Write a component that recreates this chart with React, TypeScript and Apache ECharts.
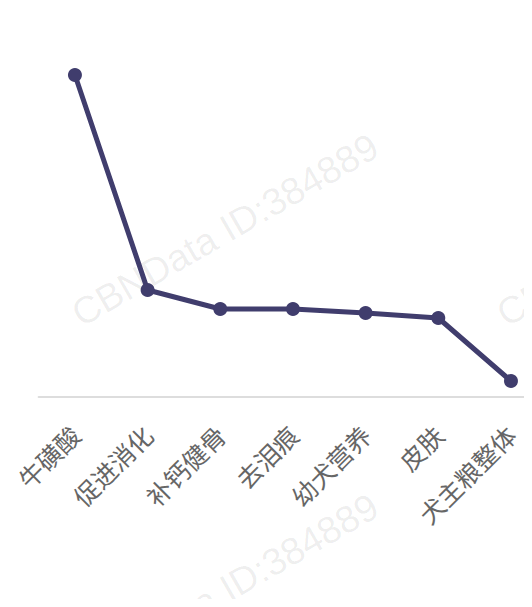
import React, { useEffect, useRef } from "react";
import * as echarts from "echarts";

const categories = ["牛磺酸", "促进消化", "补钙健骨", "去泪痕", "幼犬营养", "皮肤", "犬主粮整体"];
const values = [322, 107, 88, 88, 84, 79, 16];
const watermarkText = "CBNData ID:384889";

export default function App() {
  const ref = useRef<HTMLDivElement>(null);
  useEffect(() => {
    if (!ref.current) return;
    const chart = echarts.init(ref.current, null, { renderer: "svg" });
    const wm = (x: number, y: number) => ({
      type: "text",
      x,
      y,
      rotation: Math.PI / 6,
      z: -10,
      silent: true,
      style: {
        text: watermarkText,
        fill: "rgba(0,0,0,0.07)",
        font: "38px 'Liberation Sans', Arial, sans-serif",
        align: "center",
        verticalAlign: "middle",
      },
    });
    chart.setOption({
      animation: false,
      backgroundColor: "#ffffff",
      graphic: [wm(225, 230), wm(225, 590), wm(650, 230)],
      grid: {
        left: 38.6,
        width: 508.7,
        top: 47,
        bottom: 210,
        containLabel: false,
        outerBoundsMode: "none",
      },
      xAxis: {
        type: "category",
        data: categories,
        boundaryGap: true,
        axisLine: { lineStyle: { color: "#dddddd", width: 2 } },
        axisTick: { show: false },
        axisLabel: {
          rotate: 45,
          interval: 0,
          margin: 33,
          color: "#666666",
          fontSize: 25,
          fontFamily: "'Noto Sans CJK SC', sans-serif",
        },
      },
      yAxis: {
        type: "value",
        min: 0,
        max: 350,
        show: false,
        splitLine: { show: false },
      },
      series: [
        {
          type: "line",
          data: values,
          symbol: "circle",
          symbolSize: 14,
          lineStyle: { color: "#403d6d", width: 5 },
          itemStyle: { color: "#403d6d" },
        },
      ],
    });
    return () => chart.dispose();
  }, []);
  return <div ref={ref} style={{ width: 532, height: 607, margin: -8 }} />;
}
